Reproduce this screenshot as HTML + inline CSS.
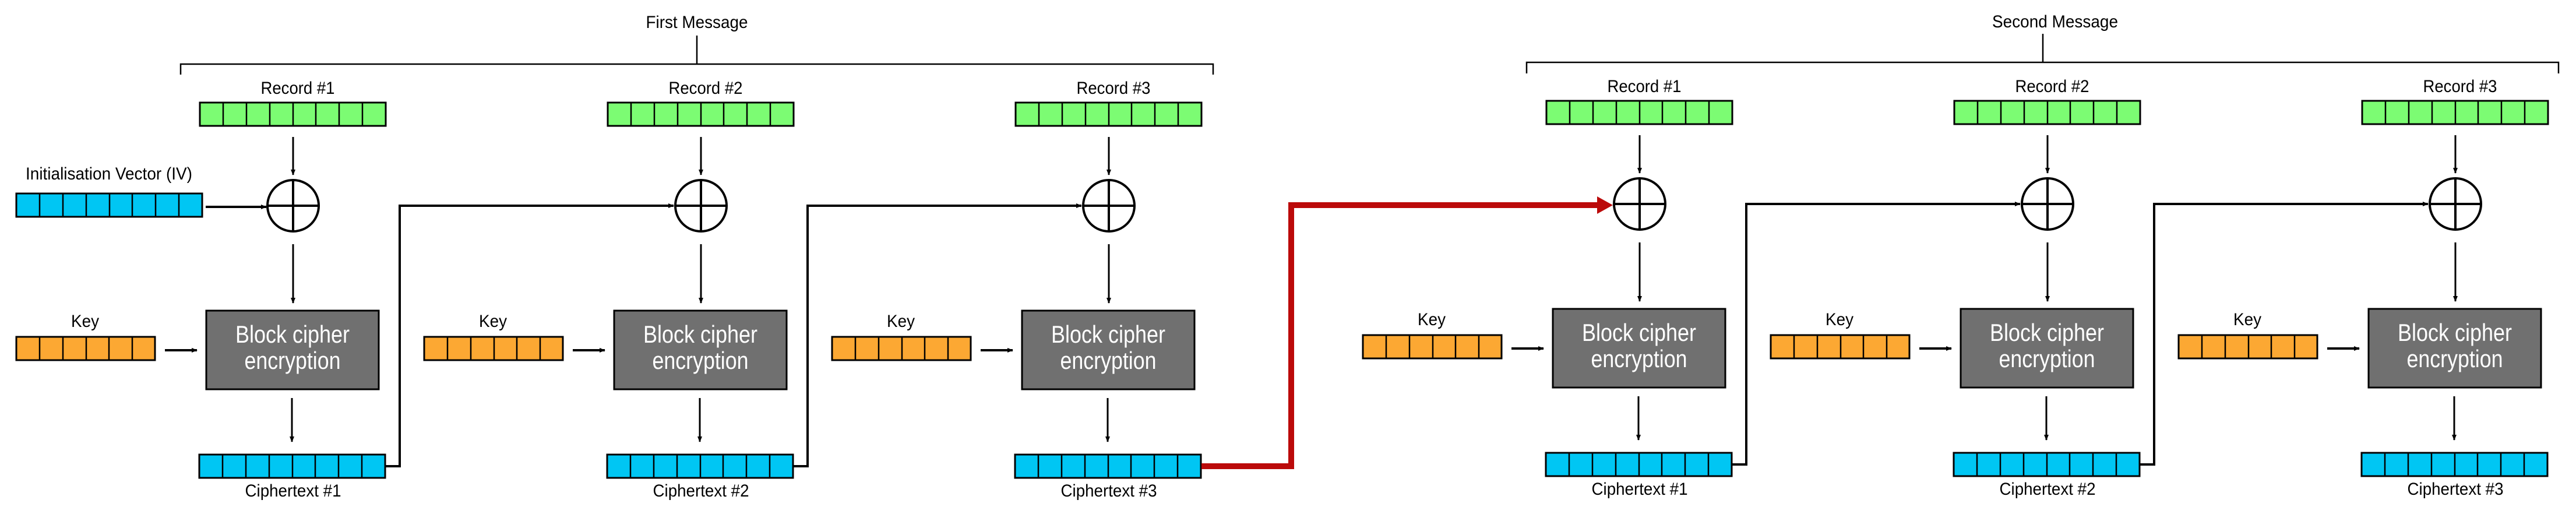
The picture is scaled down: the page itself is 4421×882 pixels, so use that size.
<!DOCTYPE html>
<html><head><meta charset="utf-8"><style>
html,body{margin:0;padding:0;background:#fff;}
svg{display:block;}
text{font-family:"Liberation Sans Narrow","Liberation Sans",Arial,sans-serif;fill:#000;}
.bt{fill:#fff;font-size:42px;}
</style></head><body>
<svg width="4421" height="882" viewBox="0 0 4421 882" xmlns="http://www.w3.org/2000/svg">
<defs>
<marker id="ah" markerWidth="10" markerHeight="10" refX="9" refY="5" orient="auto" markerUnits="userSpaceOnUse">
<path d="M0,1 L10,5 L0,9 Z" fill="#000"/></marker>
<g id="rec">
<rect x="0" y="0" width="319" height="40" fill="#7cfc73" stroke="#000" stroke-width="3"/>
<path d="M40,0V40M80,0V40M120,0V40M160,0V40M199,0V40M239,0V40M279,0V40" stroke="#000" stroke-width="2.5"/>
</g>
<g id="cip">
<rect x="0" y="0" width="319" height="40" fill="#00c6f3" stroke="#000" stroke-width="3"/>
<path d="M40,0V40M80,0V40M120,0V40M160,0V40M199,0V40M239,0V40M279,0V40" stroke="#000" stroke-width="2.5"/>
</g>
<g id="key">
<rect x="0" y="0" width="238" height="40" fill="#fca833" stroke="#000" stroke-width="3"/>
<path d="M40,0V40M80,0V40M120,0V40M159,0V40M199,0V40" stroke="#000" stroke-width="2.5"/>
</g>
<g id="unit">
<use href="#rec" x="0" y="176"/>
<line x1="160" y1="235" x2="160" y2="300" stroke="#000" stroke-width="3" marker-end="url(#ah)"/>
<circle cx="160" cy="353" r="44" fill="none" stroke="#000" stroke-width="4"/>
<path d="M116,353H204M160,309V397" stroke="#000" stroke-width="4"/>
<line x1="160" y1="419" x2="160" y2="520" stroke="#000" stroke-width="3" marker-end="url(#ah)"/>
<rect x="11" y="533" width="296" height="135" fill="#707070" stroke="#000" stroke-width="3"/>
<use href="#key" x="-315" y="578"/>
<line x1="-60" y1="601" x2="-5" y2="601" stroke="#000" stroke-width="4" marker-end="url(#ah)"/>
<line x1="158" y1="683" x2="158" y2="758" stroke="#000" stroke-width="3" marker-end="url(#ah)"/>
<use href="#cip" x="-1" y="780"/>
</g>
</defs>

<!-- Brackets -->
<path d="M310,128V110H2082V128M1196,110V61" fill="none" stroke="#000" stroke-width="2.5"/>
<text x="1196" y="48" font-size="30" text-anchor="middle" textLength="175" lengthAdjust="spacingAndGlyphs">First Message</text>
<path d="M2620,126V107H4391V126M3506,107V58" fill="none" stroke="#000" stroke-width="2.5"/>
<text x="3527" y="47" font-size="30" text-anchor="middle" textLength="216" lengthAdjust="spacingAndGlyphs">Second Message</text>

<!-- IV -->
<text x="187" y="308" font-size="30" text-anchor="middle" textLength="286" lengthAdjust="spacingAndGlyphs">Initialisation Vector (IV)</text>
<use href="#cip" x="28" y="332"/>
<line x1="353" y1="355" x2="457" y2="355" stroke="#000" stroke-width="4" marker-end="url(#ah)"/>

<!-- Group 1 -->
<g transform="translate(343,0)">
<use href="#unit"/>
<text x="168" y="161" font-size="30" text-anchor="middle" textLength="127" lengthAdjust="spacingAndGlyphs">Record #1</text>
<text x="-197" y="561" font-size="30" text-anchor="middle" textLength="48" lengthAdjust="spacingAndGlyphs">Key</text>
<text class="bt" x="159" y="588" text-anchor="middle" textLength="196" lengthAdjust="spacingAndGlyphs">Block cipher</text>
<text class="bt" x="159" y="633" text-anchor="middle" textLength="165" lengthAdjust="spacingAndGlyphs">encryption</text>
<text x="160" y="852" font-size="30" text-anchor="middle" textLength="165" lengthAdjust="spacingAndGlyphs">Ciphertext #1</text>
<path d="M319,800H343V353H813" fill="none" stroke="#000" stroke-width="4" marker-end="url(#ah)"/>
</g>
<g transform="translate(1043,0)">
<use href="#unit"/>
<text x="168" y="161" font-size="30" text-anchor="middle" textLength="127" lengthAdjust="spacingAndGlyphs">Record #2</text>
<text x="-197" y="561" font-size="30" text-anchor="middle" textLength="48" lengthAdjust="spacingAndGlyphs">Key</text>
<text class="bt" x="159" y="588" text-anchor="middle" textLength="196" lengthAdjust="spacingAndGlyphs">Block cipher</text>
<text class="bt" x="159" y="633" text-anchor="middle" textLength="165" lengthAdjust="spacingAndGlyphs">encryption</text>
<text x="160" y="852" font-size="30" text-anchor="middle" textLength="165" lengthAdjust="spacingAndGlyphs">Ciphertext #2</text>
<path d="M319,800H343V353H813" fill="none" stroke="#000" stroke-width="4" marker-end="url(#ah)"/>
</g>
<g transform="translate(1743,0)">
<use href="#unit"/>
<text x="168" y="161" font-size="30" text-anchor="middle" textLength="127" lengthAdjust="spacingAndGlyphs">Record #3</text>
<text x="-197" y="561" font-size="30" text-anchor="middle" textLength="48" lengthAdjust="spacingAndGlyphs">Key</text>
<text class="bt" x="159" y="588" text-anchor="middle" textLength="196" lengthAdjust="spacingAndGlyphs">Block cipher</text>
<text class="bt" x="159" y="633" text-anchor="middle" textLength="165" lengthAdjust="spacingAndGlyphs">encryption</text>
<text x="160" y="852" font-size="30" text-anchor="middle" textLength="165" lengthAdjust="spacingAndGlyphs">Ciphertext #3</text>
</g>

<!-- Red connector -->
<path d="M2062,800H2216V352H2745" fill="none" stroke="#bb0a0a" stroke-width="10"/>
<path d="M2741,337L2768,352L2741,367Z" fill="#bb0a0a"/>

<!-- Group 2 -->
<g transform="translate(2654,-3)">
<use href="#unit"/>
<text x="168" y="161" font-size="30" text-anchor="middle" textLength="127" lengthAdjust="spacingAndGlyphs">Record #1</text>
<text x="-197" y="561" font-size="30" text-anchor="middle" textLength="48" lengthAdjust="spacingAndGlyphs">Key</text>
<text class="bt" x="159" y="588" text-anchor="middle" textLength="196" lengthAdjust="spacingAndGlyphs">Block cipher</text>
<text class="bt" x="159" y="633" text-anchor="middle" textLength="165" lengthAdjust="spacingAndGlyphs">encryption</text>
<text x="160" y="852" font-size="30" text-anchor="middle" textLength="165" lengthAdjust="spacingAndGlyphs">Ciphertext #1</text>
<path d="M319,800H343V353H813" fill="none" stroke="#000" stroke-width="4" marker-end="url(#ah)"/>
</g>
<g transform="translate(3354,-3)">
<use href="#unit"/>
<text x="168" y="161" font-size="30" text-anchor="middle" textLength="127" lengthAdjust="spacingAndGlyphs">Record #2</text>
<text x="-197" y="561" font-size="30" text-anchor="middle" textLength="48" lengthAdjust="spacingAndGlyphs">Key</text>
<text class="bt" x="159" y="588" text-anchor="middle" textLength="196" lengthAdjust="spacingAndGlyphs">Block cipher</text>
<text class="bt" x="159" y="633" text-anchor="middle" textLength="165" lengthAdjust="spacingAndGlyphs">encryption</text>
<text x="160" y="852" font-size="30" text-anchor="middle" textLength="165" lengthAdjust="spacingAndGlyphs">Ciphertext #2</text>
<path d="M319,800H343V353H813" fill="none" stroke="#000" stroke-width="4" marker-end="url(#ah)"/>
</g>
<g transform="translate(4054,-3)">
<use href="#unit"/>
<text x="168" y="161" font-size="30" text-anchor="middle" textLength="127" lengthAdjust="spacingAndGlyphs">Record #3</text>
<text x="-197" y="561" font-size="30" text-anchor="middle" textLength="48" lengthAdjust="spacingAndGlyphs">Key</text>
<text class="bt" x="159" y="588" text-anchor="middle" textLength="196" lengthAdjust="spacingAndGlyphs">Block cipher</text>
<text class="bt" x="159" y="633" text-anchor="middle" textLength="165" lengthAdjust="spacingAndGlyphs">encryption</text>
<text x="160" y="852" font-size="30" text-anchor="middle" textLength="165" lengthAdjust="spacingAndGlyphs">Ciphertext #3</text>
</g>
</svg>
</body></html>
